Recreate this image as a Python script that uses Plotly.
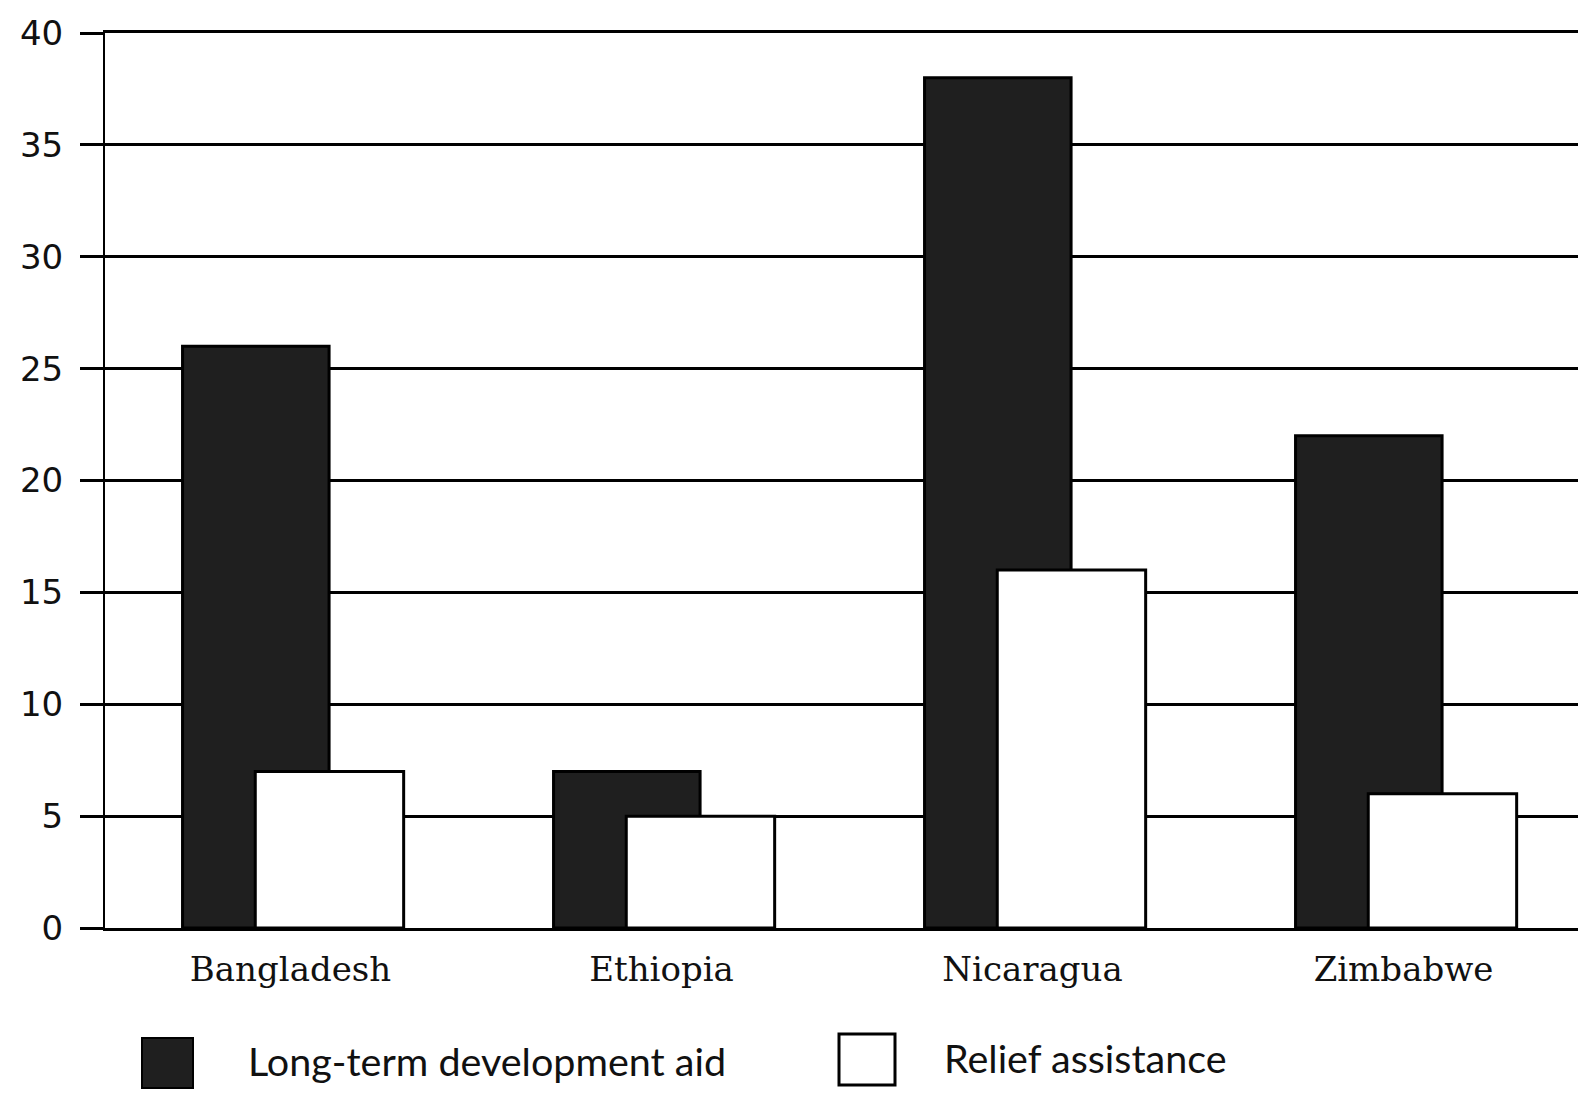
import plotly.graph_objects as go

# Aid per country, two programmes
countries = ["Bangladesh", "Ethiopia", "Nicaragua", "Zimbabwe"]
development_aid = [26, 7, 38, 22]
relief_assistance = [7, 5, 16, 6]
y_ticks = [0, 5, 10, 15, 20, 25, 30, 35, 40]

W, H = 1578, 1099
M_L, M_R, M_T, M_B = 105, 0, 33, 171
PLOT_W = W - M_L - M_R
PLOT_H = H - M_T - M_B
CAT_PX = 371  # pixel width of one category slot


def px_x(px):
    return (px - M_L) / PLOT_W


def px_y(py):
    return (H - M_B - py) / PLOT_H


DARK = "#1f1f1f"
INK = "#111111"

fig = go.Figure()
fig.add_trace(go.Bar(
    x=countries, y=development_aid, name="Long-term development aid",
    offset=-0.291, width=0.395,
    marker=dict(color=DARK, line=dict(color="black", width=3)),
    showlegend=False,
))
fig.add_trace(go.Bar(
    x=countries, y=relief_assistance, name="Relief assistance",
    offset=-0.095, width=0.40,
    marker=dict(color="white", line=dict(color="black", width=3)),
    showlegend=False,
))

# Hand-drawn legend with large swatches
shapes = [
    dict(type="rect", xref="paper", yref="paper",
         x0=px_x(142), x1=px_x(193), y0=px_y(1088), y1=px_y(1038),
         fillcolor=DARK, line=dict(color="black", width=2)),
    dict(type="rect", xref="paper", yref="paper",
         x0=px_x(839), x1=px_x(895), y0=px_y(1085), y1=px_y(1034),
         fillcolor="white", line=dict(color="black", width=3)),
]
annotations = [
    dict(text="Long-term development aid", xref="paper", yref="paper",
         x=px_x(246), y=px_y(1060), xanchor="left", yanchor="middle",
         showarrow=False, font=dict(family="Lato", size=39.5, color=INK)),
    dict(text="Relief assistance", xref="paper", yref="paper",
         x=px_x(942), y=px_y(1057), xanchor="left", yanchor="middle",
         showarrow=False, font=dict(family="Lato", size=39.5, color=INK)),
]

fig.update_layout(
    width=W, height=H,
    margin=dict(l=M_L, r=M_R, t=M_T, b=M_B, pad=0),
    paper_bgcolor="white", plot_bgcolor="white",
    barmode="overlay",
    shapes=shapes, annotations=annotations,
    showlegend=False,
)
fig.update_xaxes(
    range=[-0.5, -0.5 + PLOT_W / CAT_PX],
    showgrid=False, zeroline=False,
    showline=True, mirror=True, linecolor="black", linewidth=3,
    ticks="", ticklabelstandoff=9,
    tickfont=dict(family="DejaVu Serif", size=34, color=INK),
)
fig.update_yaxes(
    range=[0, 40], tickvals=y_ticks,
    showgrid=True, gridcolor="black", gridwidth=3,
    zeroline=False,
    showline=True, linecolor="black", linewidth=2,
    ticks="outside", ticklen=23, tickwidth=3, tickcolor="black",
    ticklabelstandoff=10,
    tickfont=dict(family="DejaVu Sans", size=34, color=INK),
)

fig.write_html("out.html")
